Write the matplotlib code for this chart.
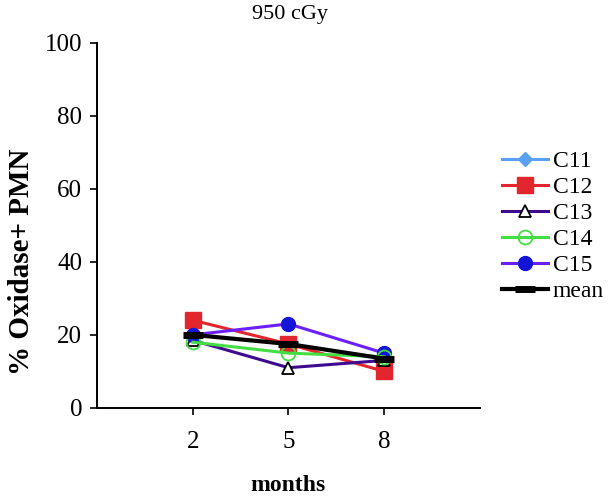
import numpy as np
import matplotlib
matplotlib.use('Agg')
import matplotlib.pyplot as plt
from matplotlib.lines import Line2D

plt.rcParams['font.family'] = ['Liberation Serif', 'DejaVu Serif']

months = [2, 5, 8]
c11 = [np.nan, np.nan, np.nan]
c12 = [24.0, 17.5, 10.0]
c13 = [18.5, 11.0, 13.0]
c14 = [18.0, 15.0, 14.0]
c15 = [20.0, 23.0, 15.0]
mean = [20.0, 17.5, 13.5]

fig = plt.figure(figsize=(6.08, 4.98), dpi=100)
ax = fig.add_axes([0.16, 0.181, 0.629, 0.733])

ax.plot(months, c11, color='#5aa0f5', lw=2.2, marker='D', ms=7, label='C11')
ax.plot(months, c12, color='#e3262d', lw=2.2, marker='s', ms=11, label='C12')
ax.plot(months, c13, color='#3d0a90', lw=2.2, marker='^', ms=9,
        mfc='white', mec='black', mew=1.3, label='C13')
ax.plot(months, c15, color='#6b1fff', lw=2.2, marker='o', ms=10,
        mfc='#1414d8', mec='#1414d8', label='C15')
ax.plot(months, c14, color='#44dd44', lw=2.2, marker='o', ms=10,
        mfc='none', mec='#44dd44', mew=1.3, label='C14')
ax.plot(months, mean, color='black', lw=3, marker='_', ms=14, mew=5, label='mean')

ax.set_xlim(-1, 11)
ax.set_ylim(0, 100)
ax.set_xticks(months)
ax.set_yticks([0, 20, 40, 60, 80, 100])
ax.tick_params(direction='out', length=5, width=1.2, labelsize=18)
ax.tick_params(axis='x', pad=12)
ax.tick_params(axis='y', pad=6)
for s in ('top', 'right'):
    ax.spines[s].set_visible(False)
for s in ('left', 'bottom'):
    ax.spines[s].set_linewidth(1.4)

fig.text(0.477, 0.97, '950 cGy', fontsize=16, ha='center', va='center')
fig.text(0.473, 0.026, 'months', fontsize=17, fontweight='bold', ha='center', va='center')
fig.text(0.035, 0.474, '% Oxidase+ PMN', fontsize=21, fontweight='bold',
         rotation=90, ha='center', va='center')

handles = [
    Line2D([], [], color='#5aa0f5', lw=2.2, marker='D', ms=7),
    Line2D([], [], color='#e3262d', lw=2.2, marker='s', ms=11),
    Line2D([], [], color='#3d0a90', lw=2.2, marker='^', ms=9, mfc='white', mec='black', mew=1.3),
    Line2D([], [], color='#44dd44', lw=2.2, marker='o', ms=10, mfc='none', mec='#44dd44', mew=1.3),
    Line2D([], [], color='#6b1fff', lw=2.2, marker='o', ms=10, mfc='#1414d8', mec='#1414d8'),
    Line2D([], [], color='black', lw=3, marker='_', ms=14, mew=5),
]
labels = ['C11', 'C12', 'C13', 'C14', 'C15', 'mean']
fig.legend(handles, labels, loc='upper left', bbox_to_anchor=(0.81, 0.717),
           frameon=False, fontsize=17, handlelength=1.95, handletextpad=0.2,
           labelspacing=0.19, borderaxespad=0)

fig.savefig('out.png', dpi=100, facecolor='white')
